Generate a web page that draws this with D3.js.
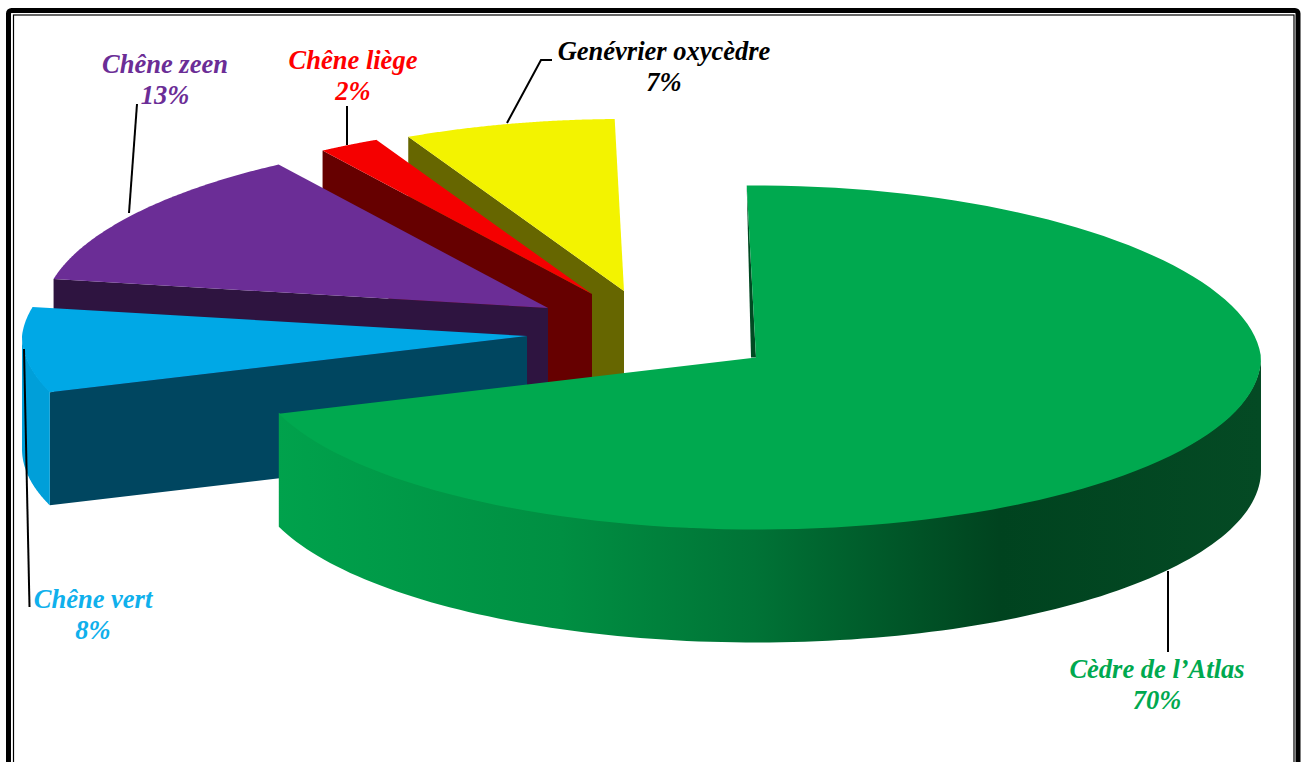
<!DOCTYPE html>
<html lang="fr">
<head>
<meta charset="utf-8">
<script src="https://cdn.jsdelivr.net/npm/d3@7"></script>
<style>
  html, body { margin: 0; padding: 0; background: #fff; }
  svg { display: block; }
  text { font-family: "Liberation Serif", serif; font-weight: bold; font-style: italic; font-size: 26.5px; text-anchor: middle; }
</style>
</head>
<body>
<svg id="chart" width="1304" height="762"></svg>
<script>
// Forest cover by species, in percent, clockwise from twelve o'clock.
const species = ["Cèdre de l’Atlas", "Chêne vert", "Chêne zeen", "Chêne liège", "Genévrier oxycèdre"];
const shares = [70, 8, 13, 2, 7];
const topColors = ["#00a94f", "#00a8e6", "#6b2d96", "#f50000", "#f3f300"];
const wallColors = ["#004a22", "#004660", "#2e1440", "#660000", "#666600"];
const rimColors = ["#00a94f", "#009fd9", "#6b2d96", "#f50000", "#f3f300"];
const labelColors = ["#00a94f", "#0fb0ec", "#6b2d96", "#ff0000", "#000000"];

// Apex of each exploded slice on the top face.
const apexes = [[756, 357.5], [527, 336], [548, 308], [592, 294], [624, 291]];
const labelAt = [[1157, 678], [93, 608], [165, 73], [353, 69], [664, 60]];
const leaders = [
  [[1168, 571], [1168, 652]],
  [[24, 349], [29.5, 607]],
  [[137, 104], [129, 213]],
  [[347, 106], [347, 145]],
  [[552, 60], [541, 60], [507, 123]]
];
const rimStops = [
  [0, "#00a24c"], [0.289, "#008f42"], [0.486, "#007336"],
  [0.633, "#005628"], [0.735, "#00431f"], [1, "#044a24"]
];

const RX = 505, RY = 172, DEPTH = 113;
const TILT = -1.1 * Math.PI / 180; // the pie starts just left of twelve o'clock
const FORESHORTEN = 0.04;          // the far side of the pie reads slightly narrower
const svg = d3.select("#chart");

const angles = d3.pie().sort(null).startAngle(TILT).endAngle(TILT + 2 * Math.PI).value(d => d)(shares);

// Flattened pie projection around a slice's apex.
const px = (i, a) => apexes[i][0] + RX * Math.sin(a) * (1 - FORESHORTEN * Math.max(0, Math.cos(a)));
const py = (i, a) => apexes[i][1] - RY * Math.cos(a);
const line = d3.line();

function arcPoints(i, a0, a1, drop = 0) {
  return d3.range(0, 121).map(k => {
    const a = a0 + (a1 - a0) * k / 120;
    return [px(i, a), py(i, a) + drop];
  });
}

// Shading along the outer wall of the large slice.
const grad = svg.append("defs").append("linearGradient")
  .attr("id", "rim").attr("gradientUnits", "userSpaceOnUse")
  .attr("x1", 277).attr("x2", 1260).attr("y1", 0).attr("y2", 0);
rimStops.forEach(([o, c]) => grad.append("stop").attr("offset", o).attr("stop-color", c));

// Frame: a heavy outer rule and a thin inner rule, running off the bottom of the page.
const frame = svg.append("g").attr("fill", "none").attr("stroke", "#000");
frame.append("rect").attr("x", 8.5).attr("y", 10.5).attr("width", 1289.5).attr("height", 790)
  .attr("rx", 3).attr("stroke-width", 5);
frame.append("rect").attr("x", 13.5).attr("y", 15).attr("width", 1280.5).attr("height", 790)
  .attr("stroke-width", 1.2);

// Back slices are painted first so the nearer ones overlap them.
[4, 3, 2, 1, 0].forEach(i => {
  const { startAngle: a0, endAngle: a1 } = angles[i];
  const g = svg.append("g");
  const [cx, cy] = apexes[i];

  if (i === 0) {
    // Sliver of the cut face at twelve o'clock.
    g.append("path")
      .attr("d", line([[px(i, a0), py(i, a0)], [cx, cy], [cx - 5, cy]]) + "Z")
      .attr("fill", wallColors[i]);
    // Outer wall of the front half.
    const rim = arcPoints(i, a1, Math.PI / 2, -1);
    const rimLow = arcPoints(i, Math.PI / 2, a1, DEPTH);
    g.append("path").attr("d", line(rim.concat(rimLow)) + "Z").attr("fill", "url(#rim)");
  } else {
    // Cut face running from the apex to the slice's first edge.
    const ex = px(i, a0), ey = py(i, a0);
    g.append("path")
      .attr("d", line([[cx, cy], [ex, ey], [ex, ey + DEPTH], [cx, cy + DEPTH]]) + "Z")
      .attr("fill", wallColors[i]);
  }
  // Outer wall of the blue slice, visible around its left edge.
  if (i === 1) {
    const left = 1.5 * Math.PI;
    const rim = arcPoints(i, a0, left, -1);
    const rimLow = arcPoints(i, left, a0, DEPTH);
    g.append("path").attr("d", line(rim.concat(rimLow)) + "Z").attr("fill", rimColors[i]);
  }
  // Top face.
  const top = [[cx, cy]].concat(arcPoints(i, a0, a1));
  g.append("path").attr("d", line(top) + "Z").attr("fill", topColors[i]);
});

// Leader lines.
leaders.forEach(pts => svg.append("path").attr("d", line(pts))
  .attr("fill", "none").attr("stroke", "#000").attr("stroke-width", 2));

// Species name with its share underneath.
species.forEach((name, i) => {
  const t = svg.append("text").attr("x", labelAt[i][0]).attr("y", labelAt[i][1]).attr("fill", labelColors[i]);
  t.append("tspan").attr("x", labelAt[i][0]).text(name);
  t.append("tspan").attr("x", labelAt[i][0]).attr("dy", 30.7).text(shares[i] + "%");
});
</script>
</body>
</html>
